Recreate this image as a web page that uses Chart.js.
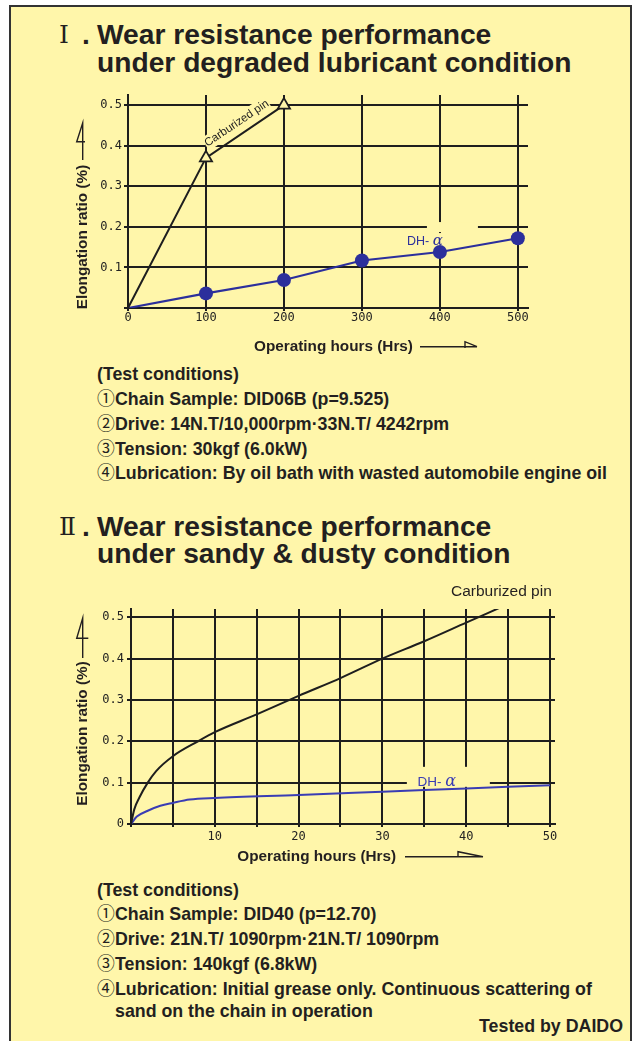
<!DOCTYPE html>
<html>
<head>
<meta charset="utf-8">
<title>Wear resistance performance</title>
<script src="https://cdn.jsdelivr.net/npm/chart.js@4.4.1/dist/chart.umd.min.js"></script>
<style>
  html, body { margin: 0; padding: 0; background: #fff; }
  body { position: relative; width: 634px; height: 1041px; overflow: hidden;
         font-family: "Liberation Sans", Arial, Helvetica, sans-serif; color: #231f20; }
  #frame { position: absolute; left: 9px; top: 5px; width: 619px; height: 1060px;
           border: 2px solid #333; background: #fff6aa; }
  .title { position: absolute; left: 97px; font-size: 28.2px; font-weight: bold;
           line-height: 27.3px; white-space: nowrap; }
  .roman { position: absolute; left: 59px; font-size: 25px; line-height: 27.3px;
           font-family: "DejaVu Serif", "Liberation Serif", serif; white-space: nowrap; }
  .roman b { position: absolute; left: 23px; top: 0; font-size: 28px;
             font-family: "Liberation Sans", Arial, sans-serif; }
  .cond { position: absolute; left: 97px; font-size: 17.8px; font-weight: bold;
          line-height: 22.7px; white-space: nowrap; }
  .num { display: inline-block; width: 18px; font-family: "Noto Sans CJK JP", "DejaVu Sans", sans-serif;
         font-weight: normal; }
  .indent { padding-left: 18px; }
  .daido { position: absolute; right: 11px; top: 1015px; font-size: 17.8px; font-weight: bold;
           line-height: 22.7px; }
  canvas { position: absolute; }
</style>
</head>
<body>
<div id="frame"></div>

<div class="roman" style="top:21.4px">Ⅰ<b>.</b></div>
<div class="title" style="top:21.4px">Wear resistance performance<br>under degraded lubricant condition</div>

<canvas id="chart1" width="490" height="275" style="left:60px;top:85px"></canvas>

<div class="cond" style="top:363.4px">
  (Test conditions)<br>
  <span class="num">①</span>Chain Sample: DID06B (p=9.525)<br>
  <span class="num">②</span>Drive: 14N.T/10,000rpm·33N.T/ 4242rpm<br>
  <span class="num">③</span>Tension: 30kgf (6.0kW)<br>
  <span class="num">④</span>Lubrication: By oil bath with wasted automobile engine oil
</div>

<div class="roman" style="top:513.1px">Ⅱ<b>.</b></div>
<div class="title" style="top:513.1px">Wear resistance performance<br>under sandy &amp; dusty condition</div>

<canvas id="chart2" width="520" height="295" style="left:60px;top:575px"></canvas>

<div class="cond" style="top:878.7px">
  (Test conditions)<br>
  <span class="num">①</span>Chain Sample: DID40 (p=12.70)<br>
  <span class="num">②</span>Drive: 21N.T/ 1090rpm·21N.T/ 1090rpm<br>
  <span class="num">③</span>Tension: 140kgf (6.8kW)<br>
  <span class="num">④</span>Lubrication: Initial grease only. Continuous scattering of<br>
  <span class="indent">sand on the chain in operation</span>
</div>
<div class="daido">Tested by DAIDO</div>

<script>
const BG = '#fff6aa';
const INK = '#1e1e1e';
const BLUE = '#2c2f9c';
const BLUE2 = '#3a3cb4';
const TICK_FONT = { family: '"DejaVu Sans Mono", "Liberation Mono", monospace', size: 12 };

// I. degraded lubricant (operating hours vs elongation %)
const hours1 = [0, 100, 200, 300, 400, 500];
const carbHours1 = [0, 100, 200];
const carb1 = [0, 0.37, 0.5];
const dh1 = [0, 0.036, 0.069, 0.117, 0.138, 0.172];

// II. sandy & dusty
const carbHours2 = [0, 0.4, 1, 2, 3, 5, 8, 10, 15, 20, 25, 30, 35, 40, 45];
const carb2 = [0, 0.036, 0.064, 0.1, 0.128, 0.164, 0.2, 0.222, 0.265, 0.31, 0.353, 0.4, 0.442, 0.487, 0.532];
const dhHours2 = [0, 0.7, 2, 3.5, 5, 7, 10, 20, 30, 40, 50];
const dh2 = [0, 0.018, 0.032, 0.044, 0.051, 0.059, 0.063, 0.07, 0.078, 0.086, 0.094];

// grid / tick values
const xGrid1 = [0, 100, 200, 300, 400, 500];
const xGrid2 = [0, 5, 10, 15, 20, 25, 30, 35, 40, 45, 50];
const xLabels2 = [10, 20, 30, 40, 50];
const yGrid = [0, 0.1, 0.2, 0.3, 0.4, 0.5];

const pts = (xs, ys) => ys.map((v, i) => ({ x: xs[i], y: v }));

// hand-drawn bits: series notes, axis titles and the little arrows
const sketch = {
  id: 'sketch',
  beforeDatasetsDraw(chart, args, o) {
    const { ctx, scales: { x, y } } = chart;
    (o.notes || []).forEach(n => {
      ctx.save();
      ctx.translate(x.getPixelForValue(n.at[0]), y.getPixelForValue(n.at[1]));
      ctx.rotate((n.rot || 0) * Math.PI / 180);
      ctx.fillStyle = BG;
      (n.blank || []).forEach(r => ctx.fillRect(r[0], r[1], r[2], r[3]));
      ctx.fillStyle = n.color;
      ctx.textBaseline = 'middle';
      ctx.textAlign = 'left';
      let w = 0;
      n.parts.forEach(p => { ctx.font = p.font; w += ctx.measureText(p.t).width; });
      let cx = n.align === 'right' ? -w : -w / 2;
      n.parts.forEach(p => {
        ctx.font = p.font;
        ctx.fillText(p.t, cx, 0);
        cx += ctx.measureText(p.t).width;
      });
      ctx.restore();
    });
  },
  afterDraw(chart, args, o) {
    const { ctx, chartArea: a } = chart;
    ctx.save();
    ctx.fillStyle = '#231f20';
    ctx.strokeStyle = '#231f20';
    ctx.font = 'bold 15.3px "Liberation Sans", Arial, sans-serif';
    ctx.textAlign = 'center';
    ctx.textBaseline = 'middle';

    // y title, rotated
    ctx.save();
    ctx.translate(a.left + o.yTitle.dx, a.bottom + o.yTitle.dy);
    ctx.rotate(-Math.PI / 2);
    ctx.fillText('Elongation ratio (%)', 0, 0);
    ctx.restore();

    // y arrow (stem with a half head)
    const ya = o.yArrow, sx = a.left + ya.dx;
    ctx.lineWidth = 1.4;
    ctx.beginPath();
    ctx.moveTo(sx, a.bottom + ya.end);
    ctx.lineTo(sx, a.bottom + ya.top);
    ctx.lineTo(sx + ya.left, a.bottom + ya.head);
    ctx.lineTo(sx + ya.right, a.bottom + ya.head);
    ctx.stroke();

    // x title
    ctx.fillText('Operating hours (Hrs)', a.left + o.xTitle.dx, a.bottom + o.xTitle.dy);

    // x arrow
    const xa = o.xArrow, ly = a.bottom + o.xTitle.dy;
    ctx.beginPath();
    ctx.moveTo(a.left + xa.from, ly);
    ctx.lineTo(a.left + xa.to, ly);
    ctx.moveTo(a.left + xa.barb, a.bottom + xa.barbBottom);
    ctx.lineTo(a.left + xa.barb, a.bottom + xa.barbTop);
    ctx.lineTo(a.left + xa.to, ly);
    ctx.stroke();
    ctx.restore();
  }
};

function makeChart(id, cfg) {
  return new Chart(document.getElementById(id), {
    type: 'line',
    data: { datasets: cfg.datasets },
    options: {
      responsive: false,
      animation: false,
      events: [],
      layout: { padding: cfg.padding },
      plugins: { legend: { display: false }, tooltip: { enabled: false }, sketch: cfg.sketch },
      scales: {
        x: {
          type: 'linear', min: 0, max: cfg.xMax,
          afterBuildTicks: s => { s.ticks = cfg.xGrid.map(v => ({ value: v })); },
          afterFit: s => { s.height = cfg.xFit; },
          ticks: { autoSkip: false, maxRotation: 0, padding: cfg.xPad, color: '#222', font: TICK_FONT,
                   callback: cfg.xLabel },
          grid: { color: INK, lineWidth: 2, tickLength: 3, tickColor: INK },
          border: { color: INK, width: 2 }
        },
        y: {
          type: 'linear', min: 0, max: cfg.yMax,
          afterBuildTicks: s => { s.ticks = yGrid.map(v => ({ value: v })); },
          afterFit: s => { s.width = cfg.yFit; },
          ticks: { padding: cfg.yPad, color: '#222', font: TICK_FONT, callback: cfg.yLabel },
          grid: { color: INK, lineWidth: 2, tickLength: 4, tickColor: INK },
          border: { color: INK, width: 2 }
        }
      }
    },
    plugins: [sketch]
  });
}

makeChart('chart1', {
  padding: { top: 10, right: 22, left: 0, bottom: 0 },
  xMax: 513, xFit: 52, xPad: 0, xGrid: xGrid1,
  xLabel: v => String(v),
  yMax: 0.525, yFit: 68, yPad: 2,
  yLabel: v => v === 0 ? '' : v.toFixed(1),
  datasets: [
    {
      label: 'Carburized pin',
      data: pts(carbHours1, carb1),
      borderColor: INK, borderWidth: 2, tension: 0,
      pointStyle: 'triangle', pointRadius: [0, 7, 7],
      pointBackgroundColor: BG, pointBorderColor: INK, pointBorderWidth: 1.8
    },
    {
      label: 'DH-α',
      data: pts(hours1, dh1),
      borderColor: BLUE, borderWidth: 2.2, tension: 0,
      pointRadius: [0, 7, 7, 7, 7, 7],
      pointBackgroundColor: BLUE, pointBorderColor: BLUE, pointBorderWidth: 0
    }
  ],
  sketch: {
    notes: [
      { at: [139.4, 0.455], rot: -34, color: INK, blank: [[-38, -7.5, 76, 15]],
        parts: [{ t: 'Carburized pin', font: '11.5px "Liberation Sans", Arial, sans-serif' }] },
      { at: [380.8, 0.165], color: BLUE, blank: [[-19, -8, 38, 16], [2, -19, 51, 10]],
        parts: [{ t: 'DH- ', font: '12.5px "Liberation Sans", Arial, sans-serif' },
                { t: 'α', font: 'italic 15px "DejaVu Serif", serif' }] }
    ],
    yTitle: { dx: -45, dy: -71 },
    yArrow: { dx: -45.3, top: -185, end: -148, head: -166.3, left: -6, right: 2.3 },
    xTitle: { dx: 205.5, dy: 38.7 },
    xArrow: { from: 292, to: 349, barb: 337, barbTop: 33.7, barbBottom: 40 }
  }
});

makeChart('chart2', {
  padding: { top: 34, right: 25, left: 0, bottom: 0 },
  xMax: 50.6, xFit: 46, xPad: 3, xGrid: xGrid2,
  xLabel: v => xLabels2.includes(v) ? String(v) : '',
  yMax: 0.52, yFit: 71, yPad: 3,
  yLabel: v => v === 0 ? '0' : v.toFixed(1),
  datasets: [
    {
      label: 'Carburized pin',
      data: pts(carbHours2, carb2),
      borderColor: INK, borderWidth: 2, cubicInterpolationMode: 'monotone', pointRadius: 0
    },
    {
      label: 'DH-α',
      data: pts(dhHours2, dh2),
      borderColor: BLUE2, borderWidth: 2, cubicInterpolationMode: 'monotone', pointRadius: 0
    }
  ],
  sketch: {
    notes: [
      { at: [44.2, 0.562], color: '#231f20',
        parts: [{ t: 'Carburized pin', font: '15.5px "Liberation Sans", Arial, sans-serif' }] },
      { at: [36.5, 0.102], color: BLUE2, blank: [[-30, -15, 83, 20]],
        parts: [{ t: 'DH- ', font: '13.5px "Liberation Sans", Arial, sans-serif' },
                { t: 'α', font: 'italic 16px "DejaVu Serif", serif' }] }
    ],
    yTitle: { dx: -48.3, dy: -90.5 },
    yArrow: { dx: -48.3, top: -206, end: -166, head: -185.7, left: -6, right: 5.6 },
    xTitle: { dx: 185.7, dy: 32.7 },
    xArrow: { from: 274, to: 352, barb: 327, barbTop: 27.7, barbBottom: 33.5 }
  }
});
</script>
</body>
</html>
